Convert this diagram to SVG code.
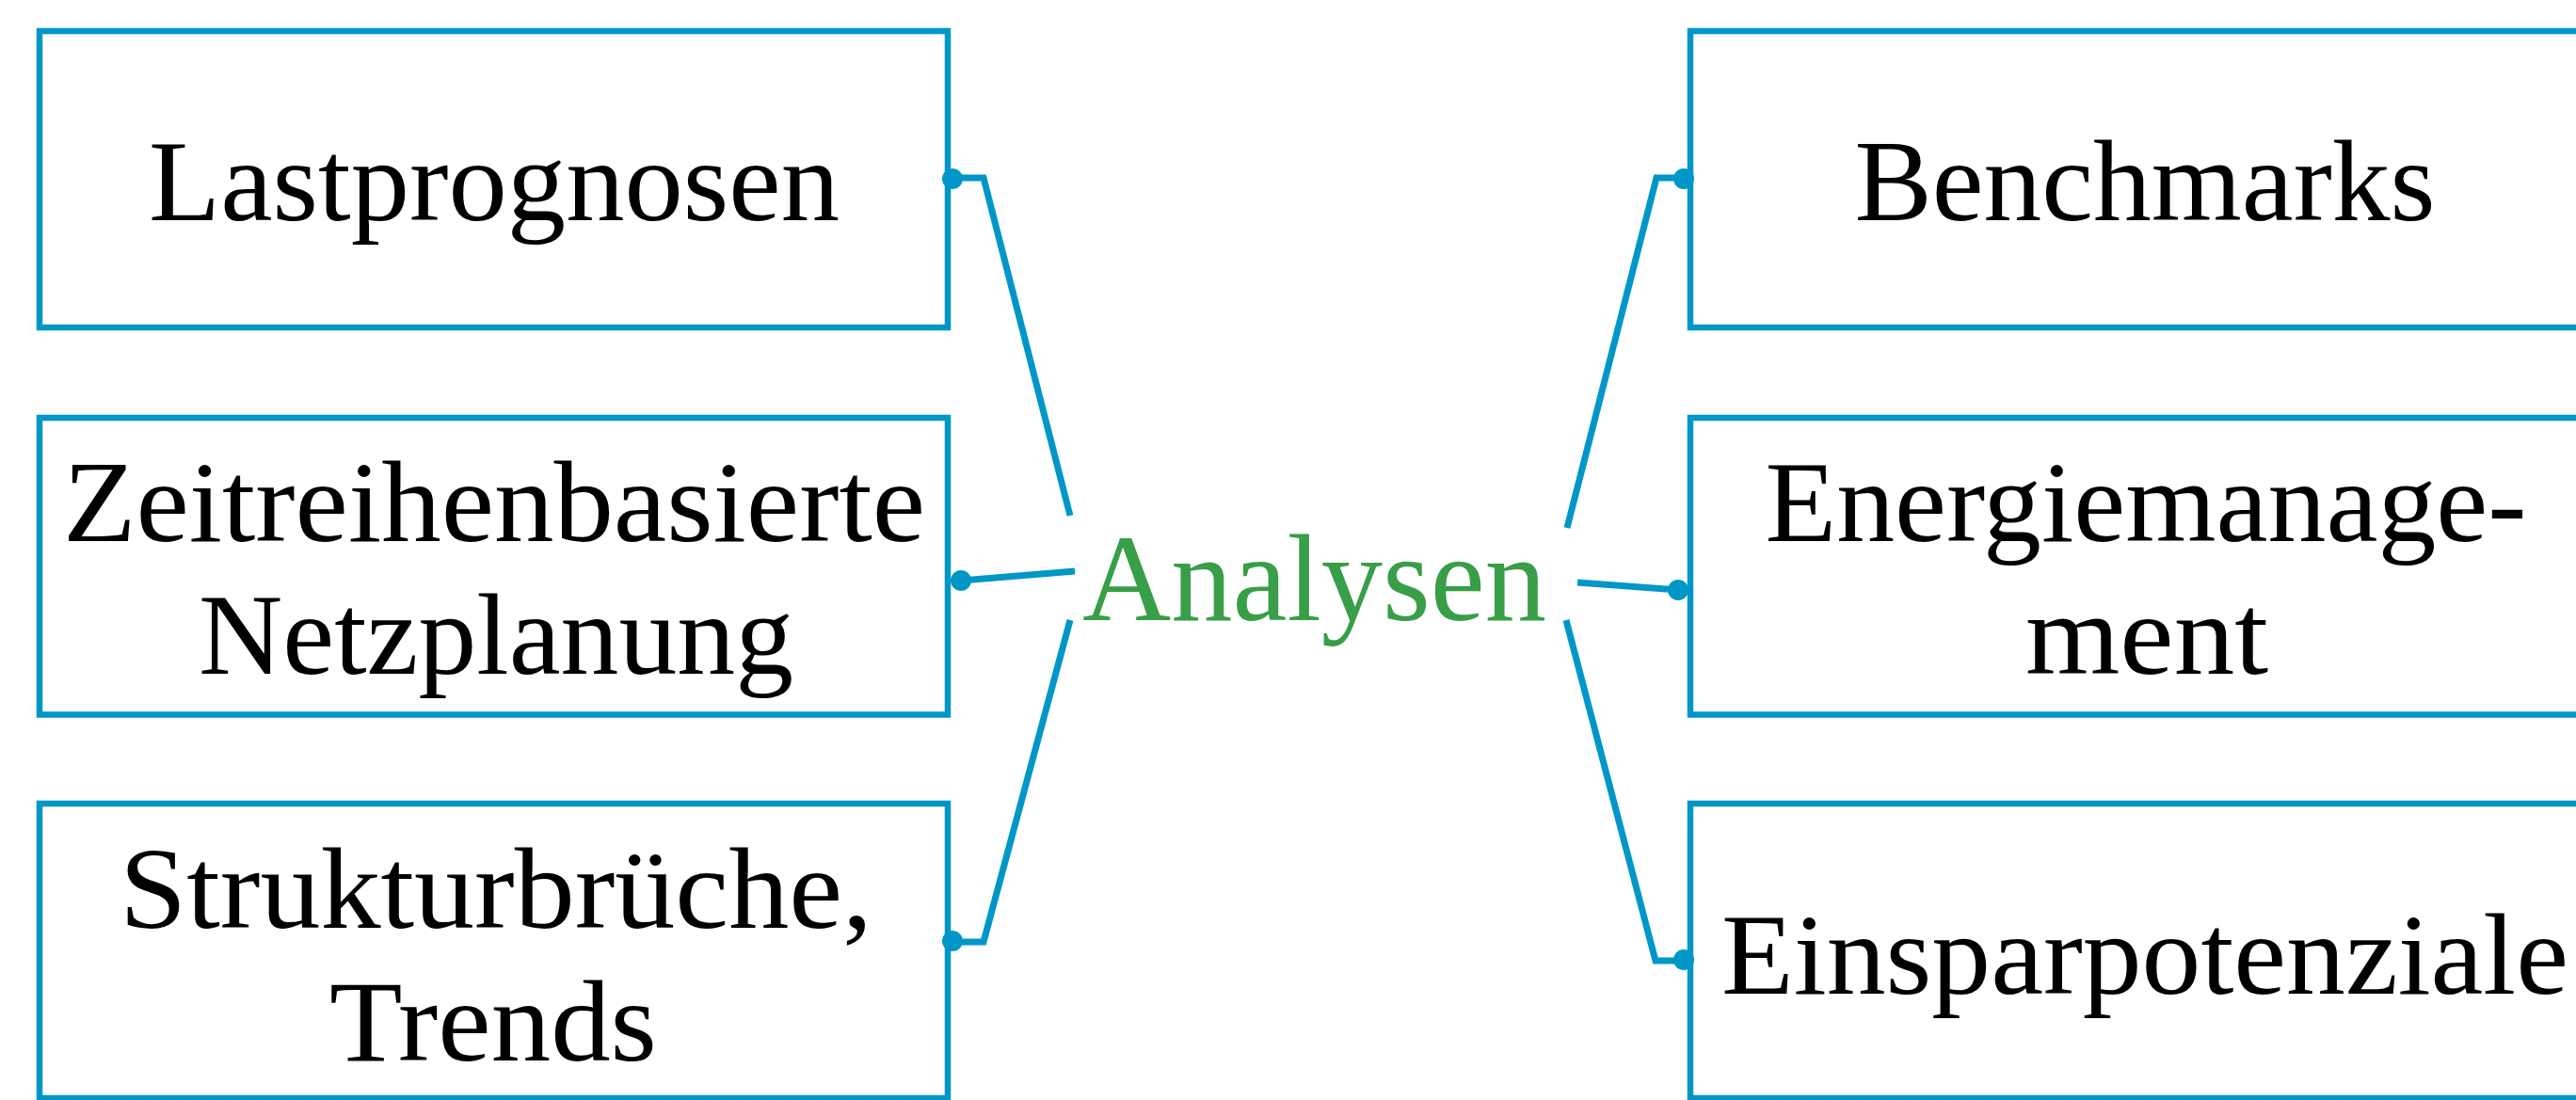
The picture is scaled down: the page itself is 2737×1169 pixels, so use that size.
<svg xmlns="http://www.w3.org/2000/svg" width="2737" height="1169" viewBox="0 0 2737 1169">
<style>
.box{fill:#ffffff;stroke:#0097C8;stroke-width:6.5}
.t{font-family:"Liberation Serif","Times New Roman",serif;font-size:122px;fill:#000000;text-anchor:middle}
.c{fill:none;stroke:#0097C8;stroke-width:7;stroke-linejoin:miter}
.d{fill:#0097C8}
.main{font-family:"Liberation Serif","Times New Roman",serif;font-size:131px;fill:#389E47}
</style>
<rect width="2737" height="1169" fill="#ffffff"/>
<g id="n-lastprognosen">
<rect class="box" x="42" y="33" width="965" height="315"/>
<text class="t" x="525" y="234" textLength="734" lengthAdjust="spacingAndGlyphs">Lastprognosen</text>
</g>
<g id="n-netzplanung">
<rect class="box" x="42" y="444" width="965" height="315.5"/>
<text class="t" x="525" y="575" textLength="916" lengthAdjust="spacingAndGlyphs">Zeitreihenbasierte</text>
<text class="t" x="527" y="716" textLength="632" lengthAdjust="spacingAndGlyphs">Netzplanung</text>
</g>
<g id="n-strukturbrueche">
<rect class="box" x="42" y="854" width="965" height="313"/>
<text class="t" x="527" y="986" textLength="800" lengthAdjust="spacingAndGlyphs">Strukturbrüche,</text>
<text class="t" x="524" y="1127" textLength="348" lengthAdjust="spacingAndGlyphs">Trends</text>
</g>
<g id="n-benchmarks">
<rect class="box" x="1796" y="33" width="965" height="315"/>
<text class="t" x="2279" y="234" textLength="617" lengthAdjust="spacingAndGlyphs">Benchmarks</text>
</g>
<g id="n-energiemanagement">
<rect class="box" x="1796" y="444" width="965" height="315.5"/>
<text class="t" x="2280" y="575" textLength="809" lengthAdjust="spacingAndGlyphs">Energiemanage-</text>
<text class="t" x="2281" y="716" textLength="258" lengthAdjust="spacingAndGlyphs">ment</text>
</g>
<g id="n-einsparpotenziale">
<rect class="box" x="1796" y="854" width="965" height="313"/>
<text class="t" x="2279" y="1056" textLength="900" lengthAdjust="spacingAndGlyphs">Einsparpotenziale</text>
</g>
<g id="n-analysen">
<text class="main" x="1150" y="659" textLength="493" lengthAdjust="spacingAndGlyphs">Analysen</text>
</g>
<g id="connectors">
<polyline class="c" points="1012,189 1045,189 1137,548"/>
<circle class="d" cx="1012" cy="190" r="11"/>
<line class="c" x1="1021" y1="617" x2="1142" y2="607"/>
<circle class="d" cx="1021" cy="617" r="11"/>
<polyline class="c" points="1012,1001 1045,1001 1137,659"/>
<circle class="d" cx="1012" cy="1000" r="11"/>
<polyline class="c" points="1665,561 1760,189 1789,189"/>
<circle class="d" cx="1789" cy="190" r="11"/>
<line class="c" x1="1676" y1="619" x2="1783" y2="627"/>
<circle class="d" cx="1783" cy="627" r="11"/>
<polyline class="c" points="1664,659 1759,1021 1789,1021"/>
<circle class="d" cx="1789" cy="1020" r="11"/>
</g>
</svg>
